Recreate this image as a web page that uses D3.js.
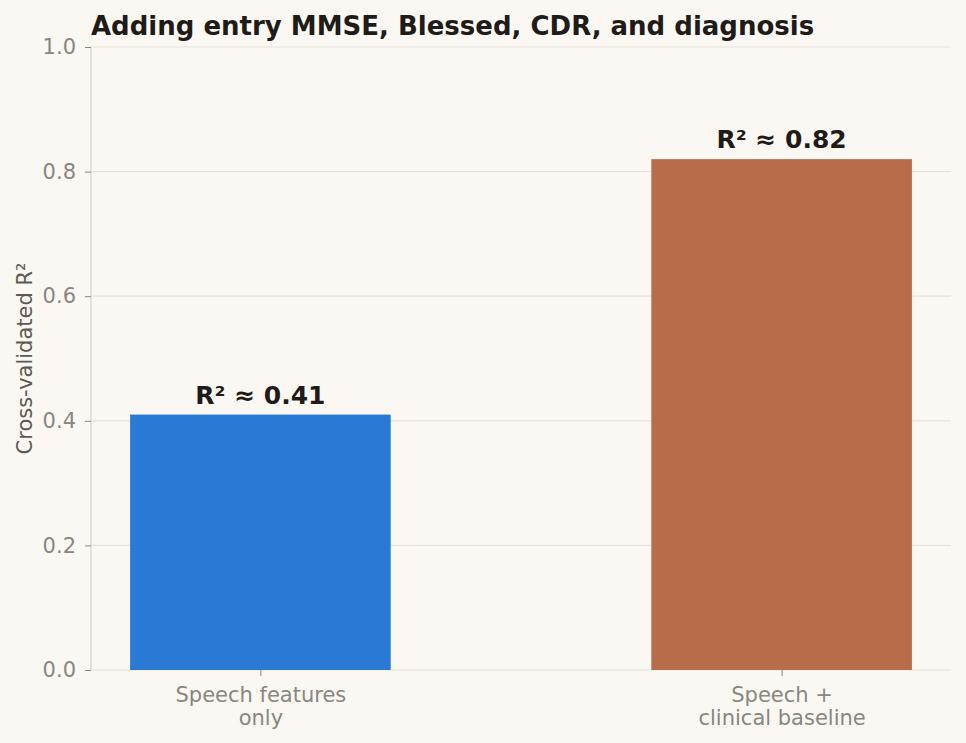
<!DOCTYPE html>
<html>
<head>
<meta charset="utf-8">
<script src="https://cdn.jsdelivr.net/npm/d3@7"></script>
<style>
  html, body { margin: 0; padding: 0; background: #fbf8f3; }
  svg text { font-family: "DejaVu Sans", sans-serif; }
</style>
</head>
<body>
<div id="chart"></div>
<script>
// chart data
const categories = [["Speech features", "only"], ["Speech +", "clinical baseline"]];
const r2Values = [0.41, 0.82];
const barLabels = ["R² ≈ 0.41", "R² ≈ 0.82"];
const barColors = ["#2a7ad5", "#b86c4a"];
const yTicks = [0.0, 0.2, 0.4, 0.6, 0.8, 1.0];

const FONT = "DejaVu Sans";
const W = 966, H = 743;
const margin = { top: 47, right: 15, bottom: 73, left: 91 };
const width = W - margin.left - margin.right,
      height = H - margin.top - margin.bottom;

const svg = d3.select("#chart").append("svg")
  .attr("width", W)
  .attr("height", H)
  .attr("font-family", FONT);

svg.append("rect").attr("width", W).attr("height", H).attr("fill", "#fbf8f3");

const g = svg.append("g").attr("transform", `translate(${margin.left},${margin.top})`);

// x positions as in a categorical bar plot: centers at 0, 1, bar width 0.5
const x = d3.scaleLinear().domain([-0.325, 1.325]).range([0, width]);
const y = d3.scaleLinear().domain([0, 1]).range([height, 0]);
const barW = 0.5;

// gridlines
g.append("g")
  .selectAll("line")
  .data(yTicks)
  .join("line")
  .attr("x1", 0)
  .attr("x2", width)
  .attr("y1", d => y(d))
  .attr("y2", d => y(d))
  .attr("stroke", "#e6e2dc")
  .attr("stroke-width", 1.2);

// bars
g.selectAll("rect.bar")
  .data(r2Values)
  .join("rect")
  .attr("class", "bar")
  .attr("x", (d, i) => x(i - barW / 2))
  .attr("width", x(barW) - x(0))
  .attr("y", d => y(d))
  .attr("height", d => y(0) - y(d))
  .attr("fill", (d, i) => barColors[i]);

// value labels
g.selectAll("text.val")
  .data(r2Values)
  .join("text")
  .attr("class", "val")
  .attr("x", (d, i) => x(i))
  .attr("y", d => y(d) - 11)
  .attr("text-anchor", "middle")
  .attr("font-size", "25px")
  .attr("font-weight", "bold")
  .attr("fill", "#1f1b18")
  .text((d, i) => barLabels[i]);

// y axis
const yAxis = g.append("g")
  .call(d3.axisLeft(y).tickValues(yTicks).tickFormat(d3.format(".1f")).tickSize(6).tickPadding(9))
  .attr("font-family", FONT);
yAxis.select(".domain").attr("stroke", "#d9d5cf").attr("stroke-width", 1.2).attr("d", `M0,0V${height}`);
yAxis.selectAll(".tick line").attr("stroke", "#8a8680");
yAxis.selectAll(".tick text")
  .attr("font-size", "21px")
  .attr("fill", "#8a8680");

// x axis
const xAxis = g.append("g")
  .attr("transform", `translate(0,${height})`)
  .call(d3.axisBottom(x).tickValues([0, 1]).tickFormat("").tickSize(6))
  .attr("font-family", FONT);
xAxis.select(".domain").remove();
xAxis.selectAll(".tick line").attr("stroke", "#8a8680");

xAxis.selectAll(".tick")
  .each(function (d) {
    const t = d3.select(this).append("text")
      .attr("text-anchor", "middle")
      .attr("fill", "#8a8680")
      .attr("font-size", "21px");
    categories[d].forEach((line, j) => {
      t.append("tspan").attr("x", 0).attr("y", 32 + j * 23).text(line);
    });
  });

// y label
svg.append("text")
  .attr("transform", `translate(32,${margin.top + height / 2}) rotate(-90)`)
  .attr("text-anchor", "middle")
  .attr("font-size", "21px")
  .attr("fill", "#5d5852")
  .text("Cross-validated R²");

// title
svg.append("text")
  .attr("x", margin.left)
  .attr("y", 35)
  .attr("font-size", "26px")
  .attr("font-weight", "bold")
  .attr("fill", "#1f1b18")
  .text("Adding entry MMSE, Blessed, CDR, and diagnosis");
</script>
</body>
</html>
